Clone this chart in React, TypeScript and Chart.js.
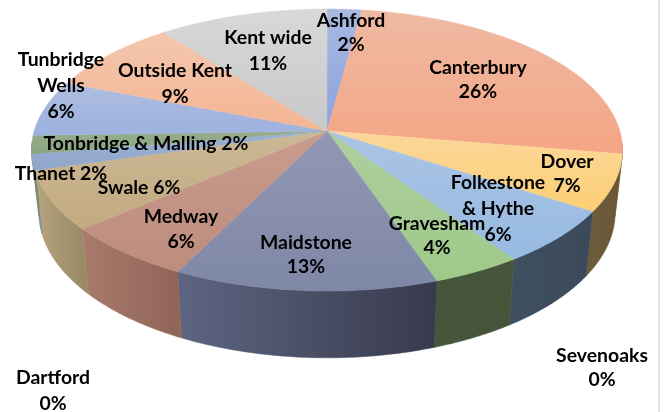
import React, { useEffect, useRef } from "react";
import { Chart, registerables } from "chart.js";

Chart.register(...registerables);

const categories = ["Ashford", "Canterbury", "Dartford", "Dover", "Folkestone & Hythe", "Gravesham", "Maidstone", "Medway", "Sevenoaks", "Swale", "Thanet", "Tonbridge & Malling", "Tunbridge Wells", "Outside Kent", "Kent wide"];
const values = [2.15, 25.45, 0, 6.5, 6.3, 4.3, 12.7, 6.4, 0, 6.8, 1.8, 2.1, 6.4, 8.5, 10.6];
const percentLabels = ["2%", "26%", "0%", "7%", "6%", "4%", "13%", "6%", "0%", "6%", "2%", "2%", "6%", "9%", "11%"];

const topLight = ["#a9b9e2", "#efbaa3", "#cccccc", "#fbd79a", "#aac4e4", "#adcf9d", "#9298b3", "#c89c8e", "#cccccc", "#ccb896", "#9db2d4", "#97ae8e", "#aebce0", "#f4c6ae", "#d8d8d8"];
const topDark = ["#8aa2dc", "#f4a584", "#cccccc", "#fccf74", "#97bae2", "#9fc98a", "#7f87a7", "#bd8c7c", "#cccccc", "#c2aa80", "#8ea6cb", "#8aa47e", "#9db2de", "#f4b593", "#c8c8c8"];
const wallLeft = ["#5c6f9c", "#a86f50", "#888888", "#6d5c3c", "#3e4f60", "#46563a", "#5d6582", "#a87a6a", "#888888", "#b6a47e", "#7d93b5", "#7a8a6a", "#6a7a9c", "#a8775a", "#8a8a8a"];
const wallRight = ["#5c6f9c", "#a86f50", "#888888", "#685634", "#3b4a5a", "#45553a", "#383a4c", "#906659", "#888888", "#9a8a68", "#6f86aa", "#7a8a6a", "#6a7a9c", "#a8775a", "#8a8a8a"];

const labelFont = "bold 19.4px Lato";
const labelLines: Record<string, string[]> = {
  "Folkestone & Hythe": ["Folkestone", "& Hythe", "{p}"],
  "Tunbridge Wells": ["Tunbridge", "Wells", "{p}"],
  Thanet: ["Thanet {p}"],
  Swale: ["Swale {p}"],
  "Tonbridge & Malling": ["Tonbridge & Malling {p}"],
};
const labelAnchors: Record<string, [number, number, number]> = {
  Ashford: [351, 21, 24],
  Canterbury: [478, 68, 24],
  Dartford: [53, 378, 26],
  Dover: [567, 162, 24],
  "Folkestone & Hythe": [498, 183, 26],
  Gravesham: [437, 224, 24],
  Maidstone: [306, 243, 24],
  Medway: [181, 217, 25],
  Sevenoaks: [602, 356, 24],
  Swale: [139, 188, 0],
  Thanet: [61, 174, 0],
  "Tonbridge & Malling": [146, 144, 0],
  "Tunbridge Wells": [61, 60, 26],
  "Outside Kent": [175, 71, 26],
  "Kent wide": [268, 38, 26],
};

const view = { apexX: 327, apexY: 131, rx: 292.8, ry: 138.4, k: -0.1348, wallDrop: 62, wallX: 0.975, wallY: 1.03 };

function project(angle: number, floor: boolean): [number, number] {
  const a = angle + Math.PI / 2; // clockwise from 12 o'clock
  const u = Math.sin(a);
  const v = -Math.cos(a);
  const d = 1 + view.k * v;
  const sx = floor ? view.wallX : 1;
  const sy = floor ? view.wallY : 1;
  const dy = floor ? view.wallDrop : 0;
  return [view.apexX + (sx * view.rx * u) / d, view.apexY + dy + (sy * view.ry * v) / d];
}

function samples(start: number, end: number): number[] {
  const n = Math.max(2, Math.ceil(Math.abs(end - start) / 0.015));
  const out: number[] = [];
  for (let i = 0; i <= n; i++) out.push(start + ((end - start) * i) / n);
  return out;
}

const pie3d = {
  id: "pie3d",
  beforeDatasetDraw(chart: any) {
    const ctx: CanvasRenderingContext2D = chart.ctx;
    const arcs = chart.getDatasetMeta(0).data;
    const visStart = (95 * Math.PI) / 180 - Math.PI / 2;
    const visEnd = (265 * Math.PI) / 180 - Math.PI / 2;

    // side wall
    arcs.forEach((arc: any, i: number) => {
      const s = Math.max(arc.startAngle, visStart);
      const e = Math.min(arc.endAngle, visEnd);
      if (e <= s || values[i] === 0) return;
      const ang = samples(s, e);
      const topPts = ang.map((t) => project(t, false));
      const botPts = ang.map((t) => project(t, true));
      const g = ctx.createLinearGradient(topPts[topPts.length - 1][0], 0, topPts[0][0], 0);
      g.addColorStop(0, wallLeft[i]);
      g.addColorStop(1, wallRight[i]);
      ctx.beginPath();
      topPts.forEach((p, j) => (j ? ctx.lineTo(p[0], p[1]) : ctx.moveTo(p[0], p[1])));
      botPts.reverse().forEach((p) => ctx.lineTo(p[0], p[1]));
      ctx.closePath();
      ctx.fillStyle = g;
      ctx.strokeStyle = g;
      ctx.lineWidth = 0.6;
      ctx.fill();
      ctx.stroke();
    });

    // top surface
    arcs.forEach((arc: any, i: number) => {
      if (values[i] === 0) return;
      const pts = samples(arc.startAngle, arc.endAngle).map((t) => project(t, false));
      const ys = pts.map((p) => p[1]).concat(view.apexY);
      const g = ctx.createLinearGradient(0, Math.min(...ys), 0, Math.max(...ys));
      g.addColorStop(0, topLight[i]);
      g.addColorStop(1, topDark[i]);
      ctx.beginPath();
      ctx.moveTo(view.apexX, view.apexY);
      pts.forEach((p) => ctx.lineTo(p[0], p[1]));
      ctx.closePath();
      ctx.fillStyle = g;
      ctx.strokeStyle = g;
      ctx.lineWidth = 0.5;
      ctx.fill();
      ctx.stroke();
    });
    return false;
  },
  afterDatasetsDraw(chart: any) {
    const ctx: CanvasRenderingContext2D = chart.ctx;
    ctx.save();
    ctx.font = labelFont;
    ctx.fillStyle = "#000000";
    ctx.textAlign = "center";
    ctx.textBaseline = "middle";
    categories.forEach((name, i) => {
      const [x, y, gap] = labelAnchors[name];
      const lines = (labelLines[name] || [name, "{p}"]).map((l) => l.replace("{p}", percentLabels[i]));
      lines.forEach((l, j) => ctx.fillText(l, x, y + j * gap));
    });
    ctx.restore();
  },
};

export default function App() {
  const ref = useRef<HTMLCanvasElement>(null);
  useEffect(() => {
    const chart = new Chart(ref.current!, {
      type: "pie",
      data: { labels: categories, datasets: [{ data: values, backgroundColor: topDark, borderWidth: 0 }] },
      options: {
        responsive: false,
        animation: false,
        devicePixelRatio: 1,
        layout: { padding: 0 },
        plugins: { legend: { display: false }, tooltip: { enabled: false } },
      },
      plugins: [pie3d],
    } as any);
    return () => chart.destroy();
  }, []);
  return (
    <div style={{ position: "fixed", left: 0, top: 0, width: 665, height: 412, background: "#fff", overflow: "hidden" }}>
      <canvas ref={ref} width={665} height={412} style={{ display: "block", filter: "blur(0.35px)" }} />
      <div style={{ position: "absolute", left: 658, top: 0, width: 2, height: 412, background: "#e2e2e2" }} />
    </div>
  );
}
